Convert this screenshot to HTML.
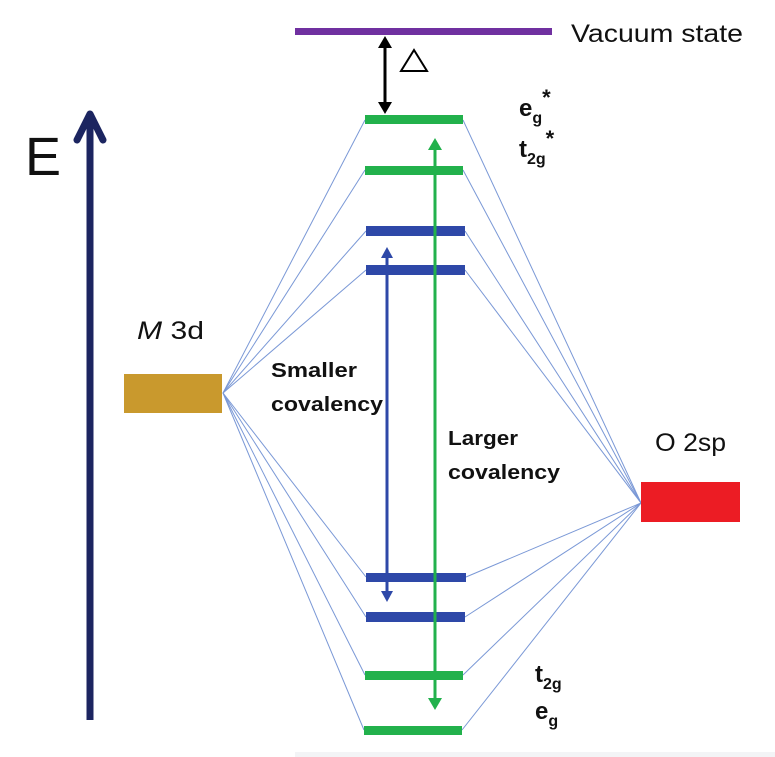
<!DOCTYPE html>
<html><head><meta charset="utf-8"><style>
html,body{margin:0;padding:0;background:#fff;}
svg{display:block;}
text{font-family:"Liberation Sans",sans-serif;}
.b{font-weight:bold;fill:#111;}
</style></head><body>
<svg width="775" height="757" viewBox="0 0 775 757" xmlns="http://www.w3.org/2000/svg">
<rect x="295" y="752" width="480" height="5" fill="#f3f4f6"/>
<g stroke="#7a98d6" stroke-width="1" fill="none">
<line x1="223" y1="393" x2="365" y2="120"/>
<line x1="223" y1="393" x2="365" y2="170"/>
<line x1="223" y1="393" x2="366" y2="231"/>
<line x1="223" y1="393" x2="366" y2="270"/>
<line x1="223" y1="393" x2="366" y2="577"/>
<line x1="223" y1="393" x2="366" y2="617"/>
<line x1="223" y1="393" x2="365" y2="675"/>
<line x1="223" y1="393" x2="364" y2="730"/>
<line x1="641" y1="503" x2="463" y2="120"/>
<line x1="641" y1="503" x2="463" y2="170"/>
<line x1="641" y1="503" x2="465" y2="231"/>
<line x1="641" y1="503" x2="465" y2="270"/>
<line x1="641" y1="503" x2="466" y2="577"/>
<line x1="641" y1="503" x2="465" y2="617"/>
<line x1="641" y1="503" x2="463" y2="675"/>
<line x1="641" y1="503" x2="462" y2="730"/>
</g>
<line x1="90" y1="720" x2="90" y2="114" stroke="#1c2560" stroke-width="7"/>
<polyline points="77,140 90,114 103,140" fill="none" stroke="#1c2560" stroke-width="7" stroke-linecap="round" stroke-linejoin="round"/>
<text x="25" y="175" font-size="54" fill="#111">E</text>
<rect x="124" y="374" width="98" height="39" fill="#c9992d"/>
<rect x="641" y="482" width="99" height="40" fill="#ec1c24"/>
<text x="137" y="339" font-size="25" fill="#111" textLength="67" lengthAdjust="spacingAndGlyphs"><tspan font-style="italic">M</tspan> 3d</text>
<text x="655" y="451" font-size="25" fill="#111" textLength="71" lengthAdjust="spacingAndGlyphs">O 2sp</text>
<rect x="295" y="28" width="257" height="7" fill="#7030a0"/>
<text x="571" y="42" font-size="25" fill="#111" textLength="172" lengthAdjust="spacingAndGlyphs">Vacuum state</text>
<line x1="385" y1="44" x2="385" y2="106" stroke="#000" stroke-width="3"/>
<polygon points="378,48 385,36 392,48" fill="#000"/>
<polygon points="378,102 385,114 392,102" fill="#000"/>
<polygon points="414,50 427,71 401,71" fill="none" stroke="#000" stroke-width="2"/>
<rect x="365" y="115" width="98" height="9" fill="#22b14c"/>
<rect x="365" y="166" width="98" height="9" fill="#22b14c"/>
<rect x="366" y="226" width="99" height="10" fill="#2e48a8"/>
<rect x="366" y="265" width="99" height="10" fill="#2e48a8"/>
<rect x="366" y="573" width="100" height="9" fill="#2e48a8"/>
<rect x="366" y="612" width="99" height="10" fill="#2e48a8"/>
<rect x="365" y="671" width="98" height="9" fill="#22b14c"/>
<rect x="364" y="726" width="98" height="9" fill="#22b14c"/>
<line x1="387" y1="256" x2="387" y2="592" stroke="#2e48a8" stroke-width="3"/>
<polygon points="381,258 387,247 393,258" fill="#2e48a8"/>
<polygon points="381,591 387,602 393,591" fill="#2e48a8"/>
<line x1="435" y1="148" x2="435" y2="700" stroke="#22b14c" stroke-width="3"/>
<polygon points="428,150 435,138 442,150" fill="#22b14c"/>
<polygon points="428,698 435,710 442,698" fill="#22b14c"/>
<text x="271" y="377" font-size="20" class="b" textLength="86" lengthAdjust="spacingAndGlyphs">Smaller</text>
<text x="271" y="411" font-size="20" class="b" textLength="112" lengthAdjust="spacingAndGlyphs">covalency</text>
<text x="448" y="445" font-size="20" class="b" textLength="70" lengthAdjust="spacingAndGlyphs">Larger</text>
<text x="448" y="479" font-size="20" class="b" textLength="112" lengthAdjust="spacingAndGlyphs">covalency</text>
<text x="519" y="116" font-size="24" class="b">e<tspan font-size="16" dy="7">g</tspan><tspan font-size="22" dy="-18">*</tspan></text>
<text x="519" y="157" font-size="24" class="b">t<tspan font-size="16" dy="7">2g</tspan><tspan font-size="22" dy="-18">*</tspan></text>
<text x="535" y="682" font-size="24" class="b">t<tspan font-size="16" dy="7">2g</tspan></text>
<text x="535" y="719" font-size="24" class="b">e<tspan font-size="16" dy="7">g</tspan></text>
</svg>
</body></html>
